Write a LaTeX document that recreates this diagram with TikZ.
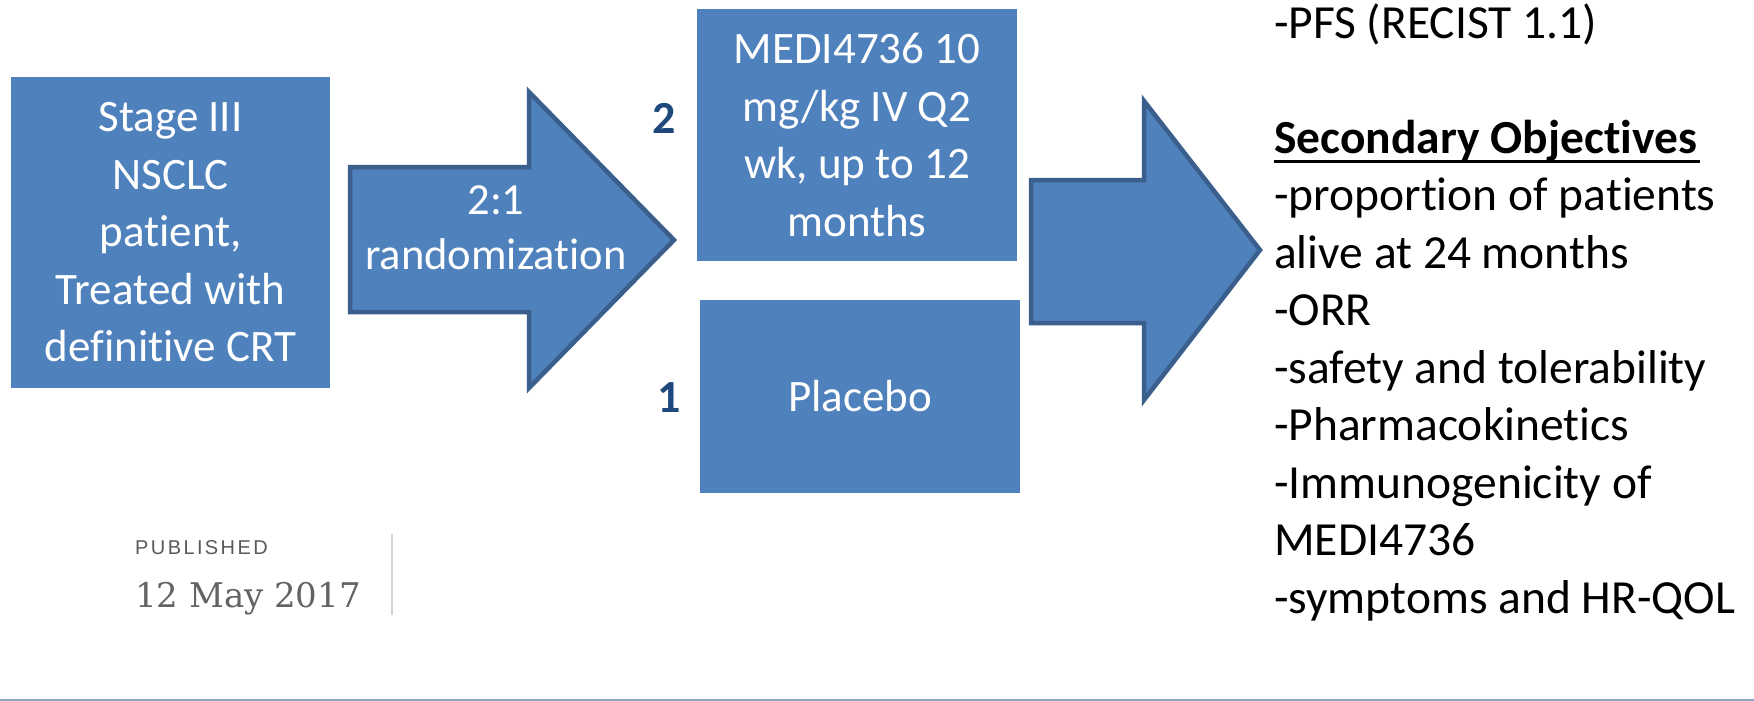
\documentclass[tikz,border=0pt]{standalone}
\usepackage{fontspec}
\setmainfont{Carlito}[Ligatures=NoCommon]
\newfontfamily\pubsans[LetterSpace=12]{Liberation Sans}
\newfontfamily\pubserif{DejaVu Serif}
\definecolor{boxfill}{HTML}{4F81BD}
\definecolor{boxedge}{HTML}{3A5F8C}
\definecolor{numcol}{HTML}{1F497D}
\definecolor{pubgray}{HTML}{5A5A5A}
\definecolor{dategray}{HTML}{636363}
\definecolor{sepgray}{HTML}{D4D4D4}
\definecolor{rulecol}{HTML}{8CA6C6}
\tikzset{
  bluebox/.style={fill=boxfill, draw=none, inner sep=0pt, text=white, align=center,
    font=\fontsize{45}{57.5}\selectfont},
  blockarrow/.style={fill=boxfill, draw=boxedge, line width=4.5pt, line join=miter},
  arrowtext/.style={text=white, align=center, inner sep=0pt, font=\fontsize{44.5}{55}\selectfont},
  numlabel/.style={text=numcol, inner sep=0pt, font=\fontsize{46}{46}\selectfont\bfseries},
  objtext/.style={align=left, inner sep=0pt, font=\fontsize{47.5}{57.5}\selectfont}
}
\begin{document}
\begin{tikzpicture}[x=1pt, y=-1pt]
\useasboundingbox (0,0) rectangle (1754,701);
\fill[white] (0,0) rectangle (1754,701);

% patient box
\node[bluebox, minimum width=319pt, minimum height=311pt] (patient) at (170.5,232.5)
  {Stage III\\NSCLC\\patient,\\Treated with\\definitive CRT};

% randomization arrow
\draw[blockarrow] (350,167) -- (529,167) -- (529,92) -- (674,240) -- (529,388) -- (529,312) -- (350,312) -- cycle;
\node[arrowtext] (rand) at (496,228) {2:1\\randomization};

% treatment boxes
\node[bluebox, minimum width=320pt, minimum height=252pt] (medi) at (857,135)
  {MEDI4736 10\\mg/kg IV Q2\\wk, up to 12\\months};
\node[bluebox, minimum width=320pt, minimum height=193pt] (placebo) at (860,396.5)
  {Placebo};

\node[numlabel, anchor=base] (two) at (664,133) {2};
\node[numlabel, anchor=base] (one) at (669,412) {1};

% objectives arrow
\draw[blockarrow] (1031,180) -- (1144,180) -- (1144,101) -- (1260,250) -- (1144,400) -- (1144,323) -- (1031,323) -- cycle;

% objectives text (base anchor = last line)
\node[objtext, anchor=base west] (obj) at (1274,613)
  {-PFS (RECIST 1.1)\\[57.5pt]
   \textbf{Secondary Objectives}\\
   -proportion of patients\\
   alive at 24 months\\
   -ORR\\
   -safety and tolerability\\
   -Pharmacokinetics\\
   -Immunogenicity of\\
   MEDI4736\\
   -symptoms and HR-QOL};
\draw[line width=3pt] (1274,161) -- (1700,161);

% published stamp
\node[anchor=base west, inner sep=0pt, text=pubgray, font=\fontsize{20}{20}\pubsans] (pub) at (135,554) {PUBLISHED};
\node[anchor=base west, inner sep=0pt, text=dategray, font=\fontsize{34}{34}\pubserif] (date) at (135,607) {12 May 2017};
\draw[sepgray, line width=2pt] (392,534) -- (392,615);

% bottom rule
\draw[rulecol, line width=2pt] (0,700) -- (1754,700);
\end{tikzpicture}
\end{document}
